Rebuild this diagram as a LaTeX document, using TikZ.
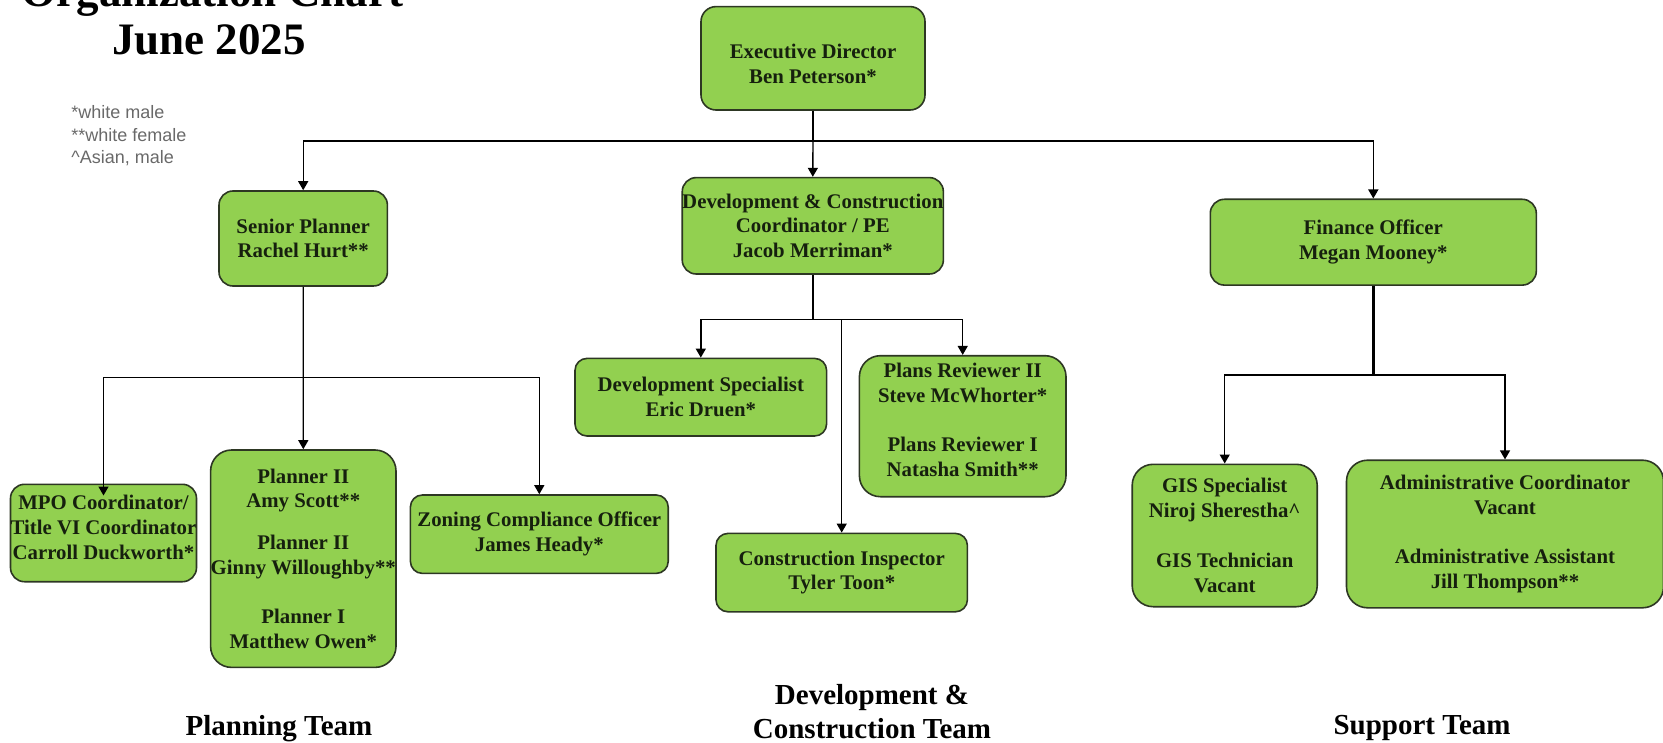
\documentclass[tikz,border=0pt]{standalone}
\usepackage{fontspec}
\setmainfont{Liberation Serif}
\newfontfamily\legendfont{Liberation Sans}
\usetikzlibrary{arrows.meta}
\definecolor{boxgreen}{RGB}{146,208,80}
\definecolor{boxline}{RGB}{45,55,35}
\definecolor{boxtext}{RGB}{22,32,14}
\definecolor{legendgray}{RGB}{105,105,105}

\begin{document}
\begin{tikzpicture}[x=0.5pt, y=-0.5pt,
  box/.style={draw=boxline, line width=0.8pt, fill=boxgreen, text=boxtext,
    rounded corners=7pt, inner sep=0pt, align=center,
    font=\bfseries\fontsize{10.4}{12.4}\selectfont},
  tallbox/.style={box, rounded corners=10.5pt},
  lowbox/.style={box, rounded corners=6pt},
  link/.style={line width=0.7pt},
  arr/.style={link, -{Triangle[width=5pt,length=4.5pt]}},
  team/.style={font=\bfseries\fontsize{14.5}{16.7}\selectfont, inner sep=0pt, align=center},
  legend/.style={font=\legendfont\fontsize{9}{11}\selectfont, text=legendgray, inner sep=0pt, anchor=base west}]
\useasboundingbox (0,0) rectangle (1663,743);

% title and legend
\node[font=\bfseries\fontsize{22.5}{24}\selectfont, inner sep=0pt, anchor=base] (title) at (212.5,7) {Organization Chart};
\node[font=\bfseries\fontsize{22.5}{24}\selectfont, inner sep=0pt, anchor=base] (date) at (209,55) {June 2025};
\node[legend] (lgA) at (71,118.3) {*white male};
\node[legend] (lgB) at (71,141.7) {**white female};
\node[legend] (lgC) at (71,164) {\textasciicircum Asian, male};

% top levels
\node[box, minimum width=112pt, minimum height=51.7pt, rounded corners=7.5pt] (ED) at (813,58.3) {\rule{0pt}{12.7pt}Executive Director\\Ben Peterson*};
\node[box, minimum width=84.2pt, minimum height=47.5pt] (SP) at (303.2,238.5) {Senior Planner\\Rachel Hurt**};
\node[box, minimum width=130.5pt, minimum height=48.2pt] (DC) at (812.8,225.8) {Development \& Construction\\Coordinator / PE\\Jacob Merriman*};
\node[box, minimum width=163pt, minimum height=42.9pt] (FO) at (1373.3,242.2) {Finance Officer\\Megan Mooney*};

% planning team
\node[box, minimum width=93pt, minimum height=48.7pt] (MPO) at (103.5,533) {MPO Coordinator/\\Title VI Coordinator\\Carroll Duckworth*\rule[-6pt]{0pt}{6pt}};
\node[tallbox, minimum width=92.7pt, minimum height=108.7pt] (PL) at (303.3,558.7) {Planner II\\Amy Scott**\\[8.3pt]Planner II\\Ginny Willoughby**\\[12.5pt]Planner I\\Matthew Owen*};
\node[lowbox, minimum width=128.9pt, minimum height=39.2pt] (ZC) at (539.3,534.2) {Zoning Compliance Officer\\James Heady*};

% development team
\node[lowbox, minimum width=125.8pt, minimum height=38.8pt] (DS) at (700.8,397.2) {Development Specialist\\Eric Druen*};
\node[tallbox, minimum width=103.3pt, minimum height=70.5pt] (PR) at (962.7,426.2) {Plans Reviewer II\\Steve McWhorter*\\[12.4pt]Plans Reviewer I\\Natasha Smith**\rule[-6.5pt]{0pt}{6.5pt}};
\node[lowbox, minimum width=125.7pt, minimum height=39.2pt] (CI) at (841.7,572.6) {Construction Inspector\\Tyler Toon*};

% support team
\node[tallbox, minimum width=92.5pt, minimum height=71.2pt] (GIS) at (1224.7,535.5) {GIS Specialist\\Niroj Sherestha\textasciicircum\\[12.4pt]GIS Technician\\Vacant};
\node[tallbox, minimum width=158.5pt, minimum height=73.8pt] (AC) at (1505,534) {Administrative Coordinator\\Vacant\\[12.4pt]Administrative Assistant\\Jill Thompson**};

\node[team, anchor=base] (plt) at (279,735) {Planning Team};
\node[team, anchor=south] (dct) at (872,739) {Development \&\\Construction Team};
\node[team, anchor=base] (spt) at (1422,734.3) {Support Team};

% connectors
\coordinate (edbus) at (813,141);
\coordinate (spbus) at (303.2,377.3);
\coordinate (dcbus) at (812.8,319.3);
\coordinate (fobus) at (1373.3,375);

\draw[link] (ED.south) -- (edbus);
\draw[arr] (edbus) -| (SP.north);
\draw[arr] (edbus) -- (DC.north);
\draw[arr] (edbus) -| (FO.north);

\draw[arr] (SP.south) -- (PL.north);
\draw[arr] (spbus) -| ([yshift=-6pt]MPO.north);
\draw[arr] (spbus) -| (ZC.north);

\draw[link] (DC.south) -- (dcbus);
\draw[arr] (dcbus) -| (DS.north);
\draw[arr] (dcbus) -| (PR.north);
\draw[arr] (CI.north |- dcbus) -- (CI.north);

\draw[link, line width=1.3pt] (FO.south) -- (fobus);
\draw[arr] (fobus) -| (GIS.north);
\draw[arr] (fobus) -| (AC.north);
\end{tikzpicture}
\end{document}
